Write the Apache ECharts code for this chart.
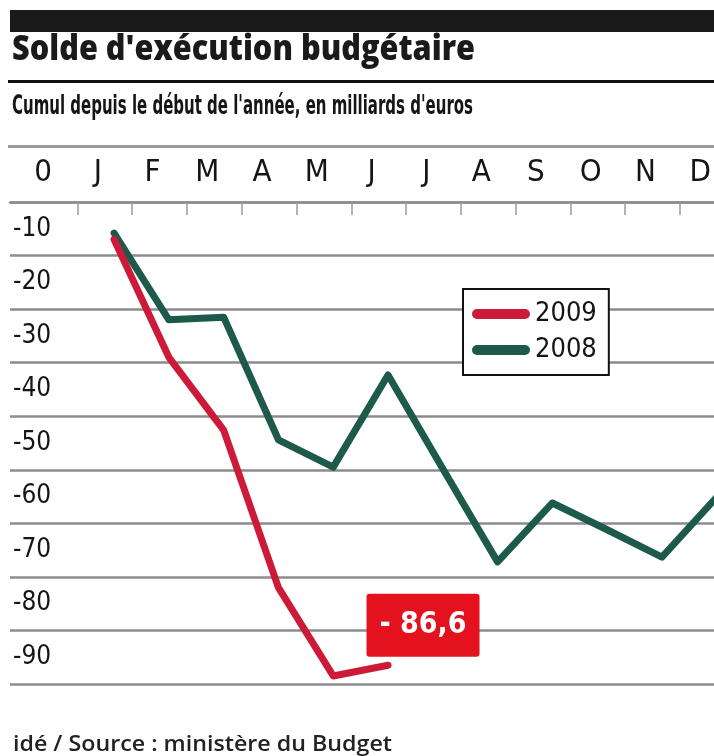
<!DOCTYPE html>
<html>
<head>
<meta charset="utf-8">
<script src="https://cdn.jsdelivr.net/npm/echarts@6/dist/echarts.min.js"></script>
<style>
html, body { margin: 0; padding: 0; background: #fff; }
#main { width: 714px; height: 756px; }
</style>
</head>
<body>
<div id="main"></div>
<script>
// libellés du haut (le "0" fait partie de la ligne des mois)
var months = ['0', 'J', 'F', 'M', 'A', 'M', 'J', 'J', 'A', 'S', 'O', 'N', 'D'];
// position de chaque point mensuel sur l'axe (1 = janvier)
var monthPos = [1, 2, 3, 4, 5, 6, 7, 8, 9, 10, 11, 12];
var solde2009 = [-12, -34, -47.6, -77, -93.5, -91.5];
var solde2008 = [-10.8, -27, -26.5, -49.4, -54.5, -37.3, -54.8, -72.2, -61.2, -66.2, -71.3, -60.1];
var yLabels = [-10, -20, -30, -40, -50, -60, -70, -80, -90];
var tickPos = [0.33, 1.33, 2.33, 3.33, 4.33, 5.33, 6.33, 7.33, 8.33, 9.33, 10.33, 11.33];
var lastLabel = '- 86,6';

var titleText = "Solde d'exécution budgétaire";
var subText = "Cumul depuis le début de l'année, en milliards d'euros";
var footText = 'idé / Source : ministère du Budget';

var narrow = '"Liberation Sans Narrow", "DejaVu Sans Condensed", sans-serif';
var RED = '#cc1a38';
var GREEN = '#1d5a4b';
var GRID = '#8c8c8c';
var INK = '#151515';

function pairs(values) {
    return values.map(function (v, i) { return [monthPos[i], v]; });
}

// largeur du texte -> facteur d'écrasement horizontal
var ctx = document.createElement('canvas').getContext('2d');
function fit(text, font, width) {
    ctx.font = font;
    return width / ctx.measureText(text).width;
}

var myChart = echarts.init(document.getElementById('main'));

var option = {
    animation: false,
    backgroundColor: '#fff',
    graphic: [
        { type: 'rect', shape: { x: 10, y: 10, width: 704, height: 22 }, style: { fill: '#1a1a1a' } },
        { type: 'rect', shape: { x: 8, y: 80, width: 706, height: 3 }, style: { fill: '#111' } },
        { type: 'rect', shape: { x: 8, y: 145, width: 706, height: 3 }, style: { fill: '#9a9a9a' } },
        {
            type: 'text', x: 12, y: 50,
            scaleX: fit(titleText, '800 35px "Open Sans"', 463),
            style: { text: titleText, fontSize: 35, fontWeight: 800, fontFamily: 'Open Sans', fill: '#1a1a1a', textVerticalAlign: 'middle' }
        },
        {
            type: 'text', x: 12, y: 107,
            scaleX: fit(subText, 'bold 26px ' + narrow, 461),
            style: { text: subText, fontSize: 26, fontWeight: 'bold', fontFamily: narrow, fill: INK, textVerticalAlign: 'middle' }
        },
        {
            type: 'text', x: 13, y: 745,
            scaleX: fit(footText, '600 22px "Open Sans"', 379),
            style: { text: footText, fontSize: 22, fontWeight: 600, fontFamily: 'Open Sans', fill: '#222', textVerticalAlign: 'middle' }
        }
    ],
    legend: {
        data: ['2009', '2008'],
        orient: 'vertical',
        left: 463,
        top: 289,
        padding: [11, 12, 11, 9],
        itemGap: 8,
        itemWidth: 58,
        itemHeight: 10,
        icon: 'path://M5,0 H53 A5,5 0 0 1 53,10 H5 A5,5 0 0 1 5,0 Z',
        backgroundColor: '#fff',
        borderColor: '#111',
        borderWidth: 2,
        textStyle: { fontSize: 27, fontFamily: narrow, color: INK, lineHeight: 28 }
    },
    grid: [
        { left: 43, right: 9, top: 202, height: 10 },
        { left: 10, right: 0, top: 202, bottom: 72 }
    ],
    xAxis: [
        {
            gridIndex: 0,
            type: 'category',
            data: months,
            boundaryGap: false,
            position: 'top',
            axisLine: { show: false },
            axisTick: { show: false },
            axisLabel: { fontSize: 31, fontFamily: narrow, color: INK, margin: 14 }
        },
        {
            gridIndex: 1,
            type: 'value',
            min: -0.9,
            max: 11.95,
            position: 'top',
            splitLine: { show: false },
            axisLabel: { show: false },
            axisLine: { onZero: false, lineStyle: { color: GRID, width: 2.5 } },
            axisTick: { inside: true, length: 13, customValues: tickPos, lineStyle: { color: '#9a9a9a', width: 1.5 } }
        }
    ],
    yAxis: [
        { gridIndex: 0, show: false },
        {
            gridIndex: 1,
            type: 'value',
            min: -95,
            max: -5,
            interval: 10,
            axisLine: { show: false },
            axisTick: { show: false },
            splitLine: { lineStyle: { color: GRID, width: 2.5 } },
            axisLabel: { inside: true, customValues: yLabels, margin: 3, fontSize: 26, fontFamily: narrow, color: INK }
        }
    ],
    series: [
        {
            name: '2008',
            type: 'line',
            xAxisIndex: 1,
            yAxisIndex: 1,
            data: pairs(solde2008),
            symbol: 'none',
            itemStyle: { color: GREEN },
            lineStyle: { color: GREEN, width: 7, cap: 'round', join: 'round' }
        },
        {
            name: '2009',
            type: 'line',
            xAxisIndex: 1,
            yAxisIndex: 1,
            data: pairs(solde2009),
            symbol: 'none',
            itemStyle: { color: RED },
            lineStyle: { color: RED, width: 7, cap: 'round', join: 'round' },
            markPoint: {
                symbol: 'circle',
                symbolSize: 1,
                itemStyle: { color: 'rgba(0,0,0,0)' },
                label: {
                    show: true,
                    position: 'inside',
                    formatter: lastLabel,
                    offset: [35, -40],
                    width: 113,
                    height: 63,
                    lineHeight: 63,
                    align: 'center',
                    backgroundColor: '#e3121e',
                    borderRadius: 3,
                    color: '#fff',
                    fontWeight: 'bold',
                    fontSize: 30,
                    fontFamily: narrow
                },
                data: [{ coord: [monthPos[solde2009.length - 1], solde2009[solde2009.length - 1]] }]
            }
        }
    ]
};
myChart.setOption(option);
</script>
</body>
</html>
